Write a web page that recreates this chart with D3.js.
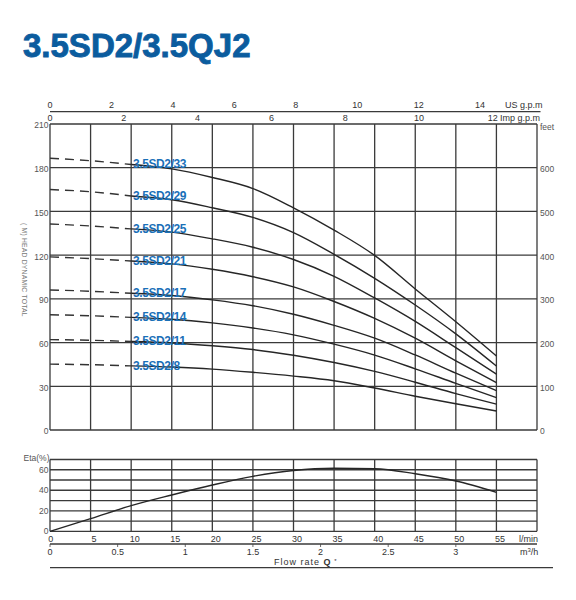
<!DOCTYPE html>
<html>
<head>
<meta charset="utf-8">
<script src="https://cdnjs.cloudflare.com/ajax/libs/d3/7.8.5/d3.min.js"></script>
<style>
body { margin: 0; background: #fff; }
svg { display: block; font-family: "Liberation Sans", Arial, Helvetica, sans-serif; }
.grid { stroke: #3a3a3a; stroke-width: 1.3; }
.tick-label { font-size: 8.5px; fill: #555; }
.axis-label { font-size: 9px; fill: #333; }
.curve { fill: none; stroke: #262626; stroke-width: 1.4; }
.curve-dash { fill: none; stroke: #333; stroke-width: 1.4; stroke-dasharray: 9,6; }
.model-label { font-size: 12px; font-weight: bold; fill: #1a70b8; letter-spacing: -0.4px; }
</style>
</head>
<body>
<svg id="chart" width="576" height="600"></svg>
<script>
// flow points (l/min) the curves were read at
var flowLmin = [0, 5, 10, 15, 20, 25, 30, 35, 40, 45, 50, 55];

var modelNames = ["3.5SD2/33", "3.5SD2/29", "3.5SD2/25", "3.5SD2/21", "3.5SD2/17", "3.5SD2/14", "3.5SD2/11", "3.5SD2/8"];

// head in metres
var head33 = [186.5, 184.8, 182.2, 179.2, 173.3, 165.7, 152.5, 137.2, 119.8, 96.8, 74.3, 50.8];
var head29 = [165.0, 163.5, 160.6, 158.0, 152.5, 145.9, 135.5, 120.6, 104.1, 85.8, 66.0, 43.9];
var head25 = [141.4, 140.0, 138.0, 135.8, 131.2, 125.4, 117.0, 105.5, 90.6, 74.5, 56.5, 38.4];
var head21 = [118.8, 117.6, 116.0, 114.0, 110.3, 105.2, 98.2, 88.2, 76.6, 63.0, 47.5, 32.5];
var head17 = [96.1, 95.2, 93.8, 92.3, 89.3, 85.3, 79.4, 71.8, 63.0, 51.5, 39.0, 27.0];
var head14 = [79.1, 78.4, 77.3, 76.0, 73.5, 70.0, 65.3, 58.9, 51.4, 42.0, 32.0, 22.2];
var head11 = [62.0, 61.6, 60.7, 59.7, 57.8, 55.2, 51.3, 46.3, 40.2, 32.8, 25.0, 17.8];
var head8 = [45.2, 44.8, 44.0, 43.2, 41.8, 39.6, 37.0, 33.8, 28.8, 23.2, 18.0, 13.0];

var etaPercent = [0, 12.3, 25.0, 35.4, 45.1, 53.6, 59.3, 61.4, 61.0, 56.1, 49.0, 38.0];

var headTicks = [0, 30, 60, 90, 120, 150, 180, 210];
var feetTicks = [0, 100, 200, 300, 400, 500, 600];
var usGpmTicks = [0, 2, 4, 6, 8, 10, 12, 14];
var impGpmTicks = [0, 2, 4, 6, 8, 10, 12];
var lminTicks = [0, 5, 10, 15, 20, 25, 30, 35, 40, 45, 50, 55];
var m3hTicks = [0, 0.5, 1, 1.5, 2, 2.5, 3];
var etaTicks = [0, 20, 40, 60];

(function(root) {
    var svg, x, y, yFeet, yEta, xUs, xImp, xM3h;
    var left = 50, right = 537;
    var headTop = 124, headBottom = 430;
    var etaTop = 459.5, etaBottom = 531.3;

    function draw() {
        svg = d3.select("#chart");

        x = d3.scaleLinear().domain([0, 60]).range([left, right]);
        y = d3.scaleLinear().domain([0, 210]).range([headBottom, headTop]);
        yFeet = d3.scaleLinear().domain([0, 700]).range([headBottom, headTop]);
        yEta = d3.scaleLinear().domain([0, 70]).range([etaBottom, etaTop]);
        // 1 US gpm = 3.785 l/min, 1 Imp gpm = 4.546 l/min, 1 m3/h = 16.667 l/min
        xUs = d3.scaleLinear().domain([0, 60 / 3.785]).range([left, right]);
        xImp = d3.scaleLinear().domain([0, 60 / 4.546]).range([left, right]);
        xM3h = d3.scaleLinear().domain([0, 60 / 16.667]).range([left, right]);

        drawTitle();
        drawTopAxes();
        drawHeadGrid();
        drawHeadCurves();
        drawEtaChart();
        drawBottomAxes();
    }

    function drawTitle() {
        svg.append("text")
            .attr("x", 23)
            .attr("y", 56.5)
            .attr("font-size", "33px")
            .attr("font-weight", "bold")
            .attr("fill", "#0b5c9e")
            .attr("stroke", "#0b5c9e")
            .attr("stroke-width", 0.9)
            .text("3.5SD2/3.5QJ2");
    }

    function drawTopAxes() {
        var g = svg.append("g");
        g.append("line")
            .attr("class", "grid")
            .attr("x1", left).attr("x2", 540.5)
            .attr("y1", 111.7).attr("y2", 111.7)
            .attr("stroke-width", 1.1);

        g.selectAll("us-label")
            .data(usGpmTicks)
            .enter()
            .append("text")
            .attr("class", "axis-label")
            .attr("text-anchor", "middle")
            .attr("x", function(d) { return xUs(d); })
            .attr("y", 108.3)
            .text(function(d) { return d; });

        g.append("text")
            .attr("class", "axis-label")
            .attr("x", 505)
            .attr("y", 108.3)
            .text("US g.p.m");

        g.selectAll("imp-label")
            .data(impGpmTicks)
            .enter()
            .append("text")
            .attr("class", "axis-label")
            .attr("text-anchor", "middle")
            .attr("x", function(d) { return xImp(d); })
            .attr("y", 121.3)
            .text(function(d) { return d; });

        g.append("text")
            .attr("class", "axis-label")
            .attr("x", 500)
            .attr("y", 121.3)
            .attr("font-size", "8.5px")
            .text("Imp g.p.m");
    }

    function drawHeadGrid() {
        var g = svg.append("g");

        g.selectAll("vgrid")
            .data(d3.range(0, 61, 5))
            .enter()
            .append("line")
            .attr("class", "grid")
            .attr("x1", function(d) { return x(d); })
            .attr("x2", function(d) { return x(d); })
            .attr("y1", headTop)
            .attr("y2", headBottom);

        g.selectAll("hgrid")
            .data(headTicks)
            .enter()
            .append("line")
            .attr("class", "grid")
            .attr("x1", left)
            .attr("x2", right)
            .attr("y1", function(d) { return y(d); })
            .attr("y2", function(d) { return y(d); });

        g.selectAll("head-label")
            .data(headTicks)
            .enter()
            .append("text")
            .attr("class", "tick-label")
            .attr("text-anchor", "end")
            .attr("x", 48.5)
            .attr("y", function(d) { return y(d) + 1.5; })
            .attr("dy", "0.35em")
            .text(function(d) { return d; });

        g.selectAll("feet-label")
            .data(feetTicks)
            .enter()
            .append("text")
            .attr("class", "tick-label")
            .attr("x", 540)
            .attr("y", function(d) { return yFeet(d) + 1.5; })
            .attr("dy", "0.35em")
            .text(function(d) { return d; });

        g.append("text")
            .attr("class", "tick-label")
            .attr("x", 540)
            .attr("y", 127.3)
            .attr("dy", "0.35em")
            .text("feet");

        g.append("text")
            .attr("transform", "translate(22,223) rotate(90)")
            .attr("font-size", "6.8px")
            .attr("fill", "#777")
            .attr("letter-spacing", "0.2px")
            .text("( M) HEAD DYNAMIC TOTAL");
    }

    function drawHeadCurves() {
        var heads = [head33, head29, head25, head21, head17, head14, head11, head8];
        var models = modelNames.map(function(name, i) {
            return {
                name: name,
                points: flowLmin.map(function(f, j) { return [f, heads[i][j]]; })
            };
        });

        var line = d3.line()
            .x(function(d) { return x(d[0]); })
            .y(function(d) { return y(d[1]); })
            .curve(d3.curveMonotoneX);

        var g = svg.append("g");

        g.selectAll("dash")
            .data(models)
            .enter()
            .append("path")
            .attr("class", "curve-dash")
            .attr("d", function(d) {
                return line(d.points.filter(function(p) { return p[0] <= 10; }));
            });

        g.selectAll("solid")
            .data(models)
            .enter()
            .append("path")
            .attr("class", "curve")
            .attr("d", function(d) {
                return line(d.points.filter(function(p) { return p[0] >= 10; }));
            });

        g.selectAll("model-label")
            .data(models)
            .enter()
            .append("text")
            .attr("class", "model-label")
            .attr("x", 133)
            .attr("y", function(d) { return y(d.points[2][1]) - 0.5; })
            .attr("dy", "0.35em")
            .text(function(d) { return d.name; });
    }

    function drawEtaChart() {
        var g = svg.append("g");

        g.selectAll("eta-vgrid")
            .data(d3.range(0, 61, 5))
            .enter()
            .append("line")
            .attr("class", "grid")
            .attr("x1", function(d) { return x(d); })
            .attr("x2", function(d) { return x(d); })
            .attr("y1", etaTop)
            .attr("y2", etaBottom);

        g.selectAll("eta-hgrid")
            .data(d3.range(0, 71, 10))
            .enter()
            .append("line")
            .attr("class", "grid")
            .attr("x1", left)
            .attr("x2", right)
            .attr("y1", function(d) { return yEta(d); })
            .attr("y2", function(d) { return yEta(d); });

        g.selectAll("eta-label")
            .data(etaTicks)
            .enter()
            .append("text")
            .attr("class", "tick-label")
            .attr("text-anchor", "end")
            .attr("x", 48.5)
            .attr("y", function(d) { return yEta(d); })
            .attr("dy", "0.35em")
            .text(function(d) { return d; });

        g.append("text")
            .attr("class", "tick-label")
            .attr("text-anchor", "end")
            .attr("x", 49.5)
            .attr("y", 458.3)
            .attr("dy", "0.35em")
            .text("Eta(%)");

        var etaLine = d3.line()
            .x(function(d) { return x(d[0]); })
            .y(function(d) { return yEta(d[1]); })
            .curve(d3.curveMonotoneX);

        g.append("path")
            .datum(flowLmin.map(function(f, i) { return [f, etaPercent[i]]; }))
            .attr("class", "curve")
            .attr("stroke-width", 1.6)
            .attr("d", etaLine);
    }

    function drawBottomAxes() {
        var g = svg.append("g");

        g.selectAll("lmin-label")
            .data(lminTicks)
            .enter()
            .append("text")
            .attr("class", "axis-label")
            .attr("text-anchor", "middle")
            .attr("x", function(d) { return d === 0 ? x(d) + 0.7 : x(d) + 3.5; })
            .attr("y", 541.8)
            .text(function(d) { return d; });

        g.append("text")
            .attr("class", "axis-label")
            .attr("x", 519)
            .attr("y", 541.8)
            .text("l/min");

        g.append("line")
            .attr("class", "grid")
            .attr("stroke-width", 1.1)
            .attr("x1", left).attr("x2", right)
            .attr("y1", 544).attr("y2", 544);

        g.selectAll("m3h-tick")
            .data(m3hTicks)
            .enter()
            .append("line")
            .attr("stroke", "#444")
            .attr("stroke-width", 0.8)
            .attr("x1", function(d) { return xM3h(d); })
            .attr("x2", function(d) { return xM3h(d); })
            .attr("y1", 544)
            .attr("y2", 547);

        g.selectAll("m3h-label")
            .data(m3hTicks)
            .enter()
            .append("text")
            .attr("class", "axis-label")
            .attr("text-anchor", "middle")
            .attr("x", function(d) { return xM3h(d); })
            .attr("y", 554.8)
            .text(function(d) { return d; });

        var unit = g.append("text")
            .attr("class", "axis-label")
            .attr("x", 520)
            .attr("y", 554.8);
        unit.append("tspan").text("m");
        unit.append("tspan").attr("font-size", "6px").attr("dy", "-3").text("3");
        unit.append("tspan").attr("dy", "3").text("/h");

        var flow = g.append("text")
            .attr("class", "axis-label")
            .attr("x", 274)
            .attr("y", 565)
            .attr("font-size", "9.5px")
            .attr("letter-spacing", "1px");
        flow.append("tspan").text("Flow rate  ");
        flow.append("tspan").attr("font-weight", "bold").text("Q");
        flow.append("tspan").attr("font-size", "6px").attr("dy", "-2").text(" *");

        g.append("line")
            .attr("class", "grid")
            .attr("stroke-width", 1.2)
            .attr("x1", left).attr("x2", 553)
            .attr("y1", 567.7).attr("y2", 567.7);
    }

    draw();
})(window);
</script>
</body>
</html>
